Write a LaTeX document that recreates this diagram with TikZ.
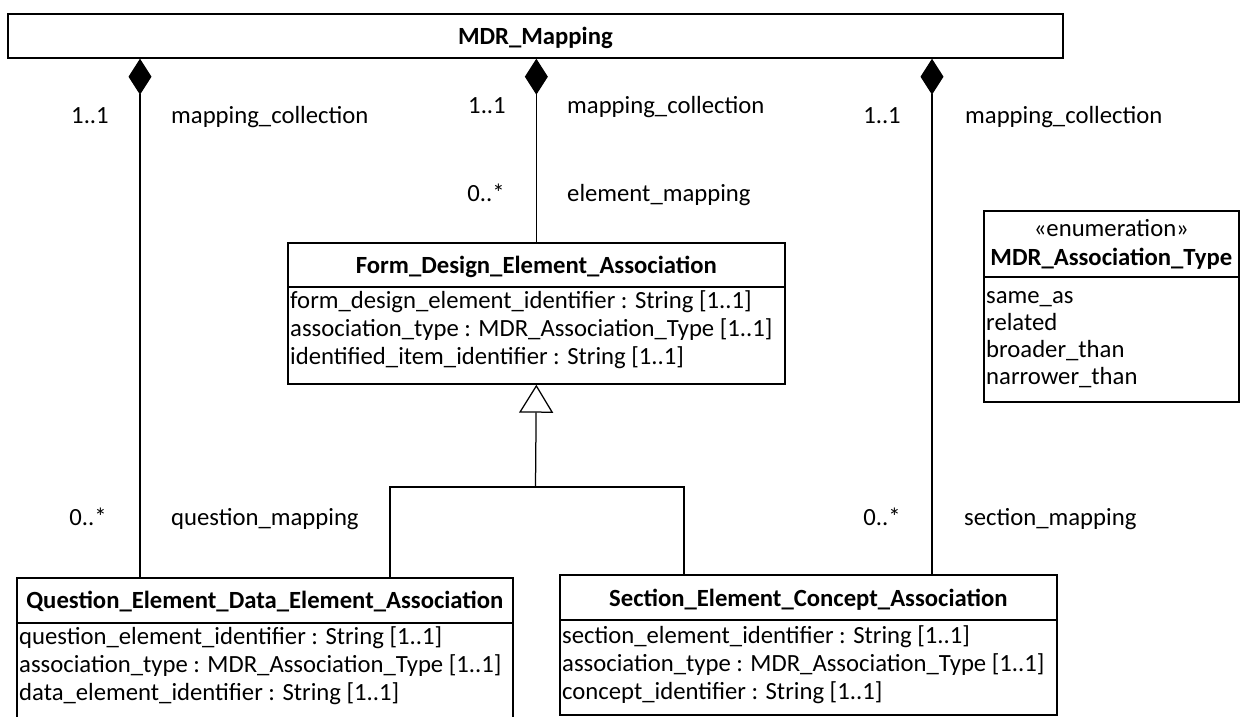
\documentclass[tikz,border=0pt]{standalone}
\usepackage{fontspec}
\setmainfont{Carlito}
\usetikzlibrary{arrows.meta}
\begin{document}
\begin{tikzpicture}[x=1pt,y=-1pt,
  lbl/.style={inner sep=0pt, font=\fontsize{24.7}{29}\selectfont},
  hdr/.style={inner sep=0pt, font=\fontsize{24.7}{29}\selectfont\bfseries},
  umlbox/.style={draw, line width=1.7pt, inner sep=0pt, fill=white, anchor=north west},
  rule/.style={line width=1.7pt},
  link/.style={line width=1.25pt},
  comp/.style={link, {Diamond[length=36pt,width=23pt]}-},
  gen/.style={link, -{Triangle[length=28pt,width=34pt,fill=white]}}
]
\useasboundingbox (0,0) rectangle (1243,716);
\fill[white] (0,0) rectangle (1243,716);
\clip (0,0) rectangle (1243,716);

% class boxes
\node[umlbox, minimum width=1055pt, minimum height=44pt]  (mdr)  at (7,13)    {};
\node[umlbox, minimum width=497pt,  minimum height=141pt] (fdea) at (287,242)  {};
\node[umlbox, minimum width=496pt,  minimum height=142pt] (qeda) at (16,577)   {};
\node[umlbox, minimum width=497pt,  minimum height=140pt] (seca) at (559,574)  {};
\node[umlbox, minimum width=255pt,  minimum height=191pt] (enum) at (983,210)  {};

% compartment rules
\draw[rule] (fdea.west |- 0,287) -- (fdea.east |- 0,287);
\draw[rule] (qeda.west |- 0,623) -- (qeda.east |- 0,623);
\draw[rule] (seca.west |- 0,620) -- (seca.east |- 0,620);
\draw[rule] (enum.west |- 0,277) -- (enum.east |- 0,277);

% class names
\node[hdr] (mdrname)  at ([yshift=-2pt]mdr.center) {MDR\_Mapping};
\node[hdr] (fdeaname) at (fdea.north |- 0,267) {Form\_Design\_Element\_Association};
\node[hdr] (qedaname) at (qeda.north |- 0,602) {Question\_Element\_Data\_Element\_Association};
\node[hdr] (secaname) at (seca.north |- 0,600) {Section\_Element\_Concept\_Association};
\node[lbl, anchor=mid] (enumster) at (enum.north |- 0,234) {«enumeration»};
\node[hdr, anchor=mid] (enumname) at (enum.north |- 0,263) {MDR\_Association\_Type};

% attributes
\node[lbl, anchor=mid west] (fa1) at (290,306) {form\_design\_element\_identifier : String [1..1]};
\node[lbl, anchor=mid west] (fa2) at (290,334) {association\_type : MDR\_Association\_Type [1..1]};
\node[lbl, anchor=mid west] (fa3) at (290,362) {identified\_item\_identifier : String [1..1]};

\node[lbl, anchor=mid west] (qa1) at (19,642) {question\_element\_identifier : String [1..1]};
\node[lbl, anchor=mid west] (qa2) at (19,670) {association\_type : MDR\_Association\_Type [1..1]};
\node[lbl, anchor=mid west] (qa3) at (19,698) {data\_element\_identifier : String [1..1]};

\node[lbl, anchor=mid west] (sa1) at (562,641) {section\_element\_identifier : String [1..1]};
\node[lbl, anchor=mid west] (sa2) at (562,669) {association\_type : MDR\_Association\_Type [1..1]};
\node[lbl, anchor=mid west] (sa3) at (562,697) {concept\_identifier : String [1..1]};

\node[lbl, anchor=mid west] (e1) at (986,301) {same\_as};
\node[lbl, anchor=mid west] (e2) at (986,328) {related};
\node[lbl, anchor=mid west] (e3) at (986,355) {broader\_than};
\node[lbl, anchor=mid west] (e4) at (986,382) {narrower\_than};

% connector columns
\coordinate (xq) at (140,0);
\coordinate (xs) at (932,0);
\coordinate (gq) at (390,0);
\coordinate (gs) at (684,0);
\coordinate (gj) at (535.5,487);

% compositions
\draw[comp] (mdr.south -| xq) -- (qeda.north -| xq);
\draw[comp] (mdr.south -| fdea.north) -- (fdea.north);
\draw[comp] (mdr.south -| xs) -- (seca.north -| xs);

% generalization
\draw[link] (qeda.north -| gq) |- (gj) -| (seca.north -| gs);
\draw[gen] (gj) -- (fdea.south);

% multiplicities and role names
\node[lbl, anchor=mid]      (m1) at (90,121)  {1..1};
\node[lbl, anchor=mid west] (r1) at (171,121) {mapping\_collection};
\node[lbl, anchor=mid]      (m2) at (487,111) {1..1};
\node[lbl, anchor=mid west] (r2) at (567,111) {mapping\_collection};
\node[lbl, anchor=mid]      (m3) at (486,199) {0..*};
\node[lbl, anchor=mid west] (r3) at (567,199) {element\_mapping};
\node[lbl, anchor=mid]      (m4) at (882,121) {1..1};
\node[lbl, anchor=mid west] (r4) at (965,121) {mapping\_collection};
\node[lbl, anchor=mid]      (m5) at (88,523)  {0..*};
\node[lbl, anchor=mid west] (r5) at (171,523) {question\_mapping};
\node[lbl, anchor=mid]      (m6) at (882,523) {0..*};
\node[lbl, anchor=mid west] (r6) at (964,523) {section\_mapping};
\end{tikzpicture}
\end{document}
